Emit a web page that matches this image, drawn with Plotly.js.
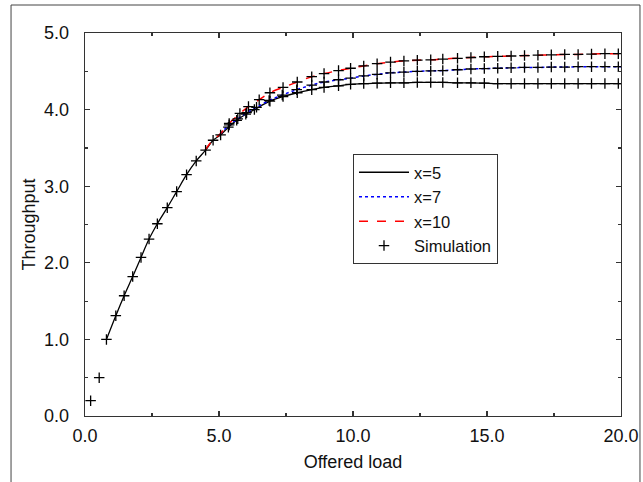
<!DOCTYPE html>
<html>
<head>
<meta charset="utf-8">
<script src="https://cdn.plot.ly/plotly-3.0.1.min.js"></script>
<style>html,body{margin:0;padding:0;background:#fff;}#chart{width:643px;height:482px;}</style>
</head>
<body>
<div id="chart"></div>
<script>
// Shared low-load simulation points (all three cases coincide)
const simLowX = [0.21, 0.53];
const simLowY = [0.20, 0.50];

// Analytic curve x=5 (solid) and its simulation points
const x5X = [0.8,1.15,1.46,1.78,2.09,2.39,2.70,3.07,3.42,3.79,4.15,4.5,4.78,5.06,5.35,5.66,6.0,6.32,6.9,7.39,7.92,8.46,8.92,9.46,9.91,10.4,10.9,11.4,11.9,12.4,12.9,13.35,13.9,14.4,14.9,15.4,15.9,16.4,16.9,17.4,17.9,18.4,18.9,19.4,19.9];
const x5Y = [1.0,1.31,1.57,1.82,2.07,2.31,2.51,2.72,2.93,3.15,3.33,3.47,3.6,3.67,3.77,3.86,3.94,4.0,4.11,4.17,4.22,4.26,4.29,4.31,4.33,4.34,4.345,4.35,4.35,4.355,4.355,4.355,4.35,4.35,4.345,4.34,4.34,4.34,4.34,4.34,4.34,4.34,4.34,4.34,4.34];

// Analytic curve x=7 (dotted)
const x7X = [5.04,5.38,5.7,6.03,6.4,6.87,7.36,7.9,8.46,8.92,9.46,9.91,10.4,10.9,11.4,11.9,12.4,12.9,13.35,13.9,14.4,14.9,15.4,15.9,16.4,16.9,17.4,17.9,18.4,18.9,19.4,19.9];
const x7Y = [3.68,3.8,3.88,3.96,4.03,4.12,4.19,4.26,4.32,4.36,4.39,4.41,4.44,4.46,4.48,4.49,4.50,4.505,4.51,4.52,4.53,4.535,4.54,4.545,4.55,4.55,4.555,4.555,4.56,4.56,4.56,4.56];

// Analytic curve x=10 (dashed)
const x10X = [4.48,4.76,5.04,5.38,5.78,6.1,6.5,6.9,7.39,7.92,8.46,8.92,9.46,9.91,10.4,10.9,11.4,11.9,12.4,12.9,13.35,13.9,14.4,14.9,15.4,15.9,16.4,16.9,17.4,17.9,18.4,18.9,19.4,19.9];
const x10Y = [3.47,3.6,3.68,3.82,3.95,4.04,4.13,4.22,4.29,4.36,4.43,4.47,4.51,4.54,4.57,4.6,4.62,4.635,4.645,4.65,4.66,4.67,4.68,4.69,4.695,4.70,4.705,4.71,4.715,4.72,4.72,4.725,4.73,4.73];

// Line extension to the right edge
const endX = 20.1;

const font = 'Arial, "Liberation Sans", sans-serif';
const lineX5 = {x: x5X.concat([endX]), y: x5Y.concat([x5Y[x5Y.length-1]])};
const lineX7 = {x: x7X.concat([endX]), y: x7Y.concat([x7Y[x7Y.length-1]])};
const lineX10 = {x: x10X.concat([endX]), y: x10Y.concat([x10Y[x10Y.length-1]])};

const simX = simLowX.concat(x5X, x7X.slice(1), x10X.slice(3));
const simY = simLowY.concat(x5Y, x7Y.slice(1), x10Y.slice(3));

const traces = [
  {x: lineX5.x, y: lineX5.y, mode: 'lines', name: 'x=5', line: {color: '#000', width: 1.3, shape: 'spline'}},
  {x: lineX7.x, y: lineX7.y, mode: 'lines', name: 'x=7', line: {color: '#0000ff', width: 1.5, dash: 'dot', shape: 'spline'}},
  {x: lineX10.x, y: lineX10.y, mode: 'lines', name: 'x=10', line: {color: '#ff0000', width: 1.5, dash: 'dash', shape: 'spline'}},
  {x: simX, y: simY, mode: 'markers', name: 'Simulation', marker: {symbol: 'cross-thin-open', size: 7.5, color: '#000', line: {color: '#000', width: 1.3}}}
];

const axisCommon = {
  showgrid: false, zeroline: false, showline: true, linecolor: '#333', linewidth: 1.3,
  mirror: 'ticks', ticks: 'inside', ticklen: 5, tickcolor: '#333', tickwidth: 1.2,
  tickfont: {family: font, size: 18, color: '#111'}
};

const layout = {
  width: 643, height: 482,
  margin: {l: 85, r: 22, t: 33, b: 66},
  paper_bgcolor: '#fff', plot_bgcolor: '#fff',
  showlegend: true,
  legend: {x: 0.5, y: 0.684, xanchor: 'left', yanchor: 'top', bordercolor: '#333', borderwidth: 1,
           bgcolor: '#fff', font: {family: font, size: 16.5, color: '#111'}, tracegroupgap: 0,
           itemwidth: 50},
  xaxis: Object.assign({}, axisCommon, {
    range: [0, 20], tickvals: [0, 5, 10, 15, 20], ticktext: ['0.0','5.0','10.0','15.0','20.0'],
    minor: {dtick: 2.5, ticks: 'inside', ticklen: 3, tickcolor: '#333'},
    ticklabelstandoff: 3,
    title: {text: 'Offered load', font: {family: font, size: 18, color: '#111'}, standoff: 10}
  }),
  yaxis: Object.assign({}, axisCommon, {
    range: [0, 5], tickvals: [0, 1, 2, 3, 4, 5], ticktext: ['0.0','1.0','2.0','3.0','4.0','5.0'],
    minor: {dtick: 0.5, ticks: 'inside', ticklen: 3, tickcolor: '#333'},
    ticklabelstandoff: 11,
    title: {text: 'Throughput', font: {family: font, size: 18, color: '#111'}, standoff: 3}
  }),
  shapes: [
    {type: 'rect', xref: 'paper', yref: 'paper', x0: -0.138, x1: 1.0354, y0: -0.2, y1: 1.0731,
     line: {color: '#444', width: 1}, fillcolor: 'rgba(0,0,0,0)', layer: 'below'}
  ]
};

Plotly.newPlot('chart', traces, layout, {displayModeBar: false, staticPlot: true});
</script>
</body>
</html>
